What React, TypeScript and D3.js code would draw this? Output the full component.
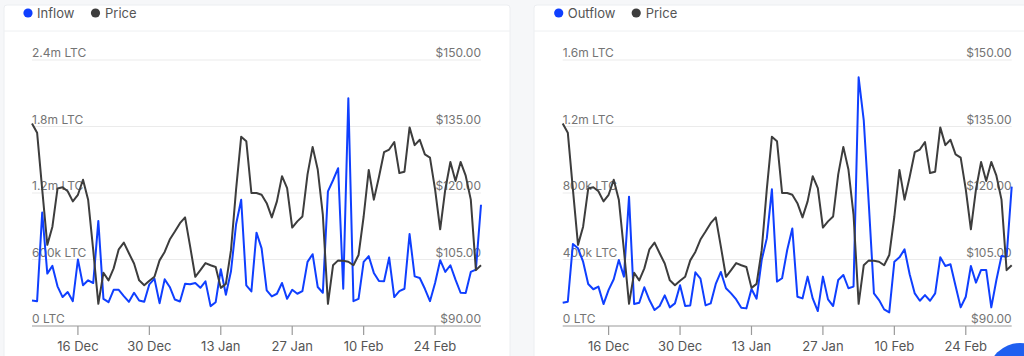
import React, { useEffect, useRef } from "react";
import * as d3 from "d3";

// daily points, 7 Dec 2021 -> 5 Mar 2022
const firstDay = "2021-12-07";
const lastDay = "2022-03-05";

// LTC price, USD
const price = [
  135.7, 133.6, 120.8, 108.3, 112.4, 121.0, 121.3, 120.4, 118.1, 119.6,
  123.0, 118.5, 107.1, 95.0, 102.0, 100.3, 103.0, 107.3, 108.8, 106.4,
  104.1, 100.3, 99.2, 100.2, 101.1, 104.8, 106.7, 109.5, 111.3, 113.2,
  114.5, 107.9, 101.1, 102.6, 104.2, 103.7, 103.3, 98.6, 99.5, 107.1,
  120.8, 132.7, 131.7, 120.0, 120.0, 119.6, 117.7, 114.5, 118.1, 123.8,
  121.1, 112.2, 113.6, 114.7, 124.2, 130.4, 125.3, 115.1, 95.0, 103.7,
  104.8, 104.7, 104.5, 103.7, 106.0, 114.7, 125.2, 118.5, 123.6, 129.2,
  129.8, 131.5, 124.5, 124.8, 134.8, 130.8, 132.0, 128.7, 128.0, 120.8,
  111.8, 120.8, 127.0, 122.7, 127.0, 123.9, 118.5, 102.6, 103.7,
];

// exchange inflow, thousand LTC
const inflow = [
  230, 224, 1024, 473, 542, 358, 261, 306, 224, 600,
  367, 412, 388, 948, 245, 215, 327, 327, 270, 218,
  300, 230, 218, 376, 427, 206, 421, 352, 239, 221,
  382, 376, 388, 345, 403, 179, 215, 512, 282, 494,
  918, 1139, 367, 312, 842, 700, 321, 267, 291, 388,
  245, 327, 291, 315, 579, 648, 352, 300, 1215, 1315,
  1424, 336, 2055, 224, 245, 579, 630, 479, 406, 403,
  618, 261, 315, 336, 830, 448, 433, 336, 224, 388,
  594, 488, 548, 418, 300, 297, 488, 509, 1094,
];

// exchange outflow, thousand LTC
const outflow = [
  140, 146, 493, 467, 387, 253, 221, 237, 132, 217,
  281, 397, 297, 778, 132, 140, 233, 156, 96, 120,
  184, 112, 136, 245, 120, 124, 323, 285, 124, 136,
  253, 325, 227, 196, 160, 110, 106, 223, 164, 397,
  527, 822, 267, 287, 457, 587, 176, 166, 297, 166,
  90, 297, 160, 120, 277, 307, 227, 237, 1496, 1239,
  730, 196, 156, 100, 82, 387, 413, 461, 311, 196,
  152, 186, 152, 196, 413, 361, 371, 241, 112, 176,
  361, 261, 337, 337, 112, 277, 421, 417, 838,
];

const inflowTicks = [0, 600, 1200, 1800, 2400];
const inflowTickLabels = ["0 LTC", "600k LTC", "1.2m LTC", "1.8m LTC", "2.4m LTC"];
const outflowTicks = [0, 400, 800, 1200, 1600];
const outflowTickLabels = ["0 LTC", "400k LTC", "800k LTC", "1.2m LTC", "1.6m LTC"];
const priceTicks = [90, 105, 120, 135, 150];
const dateTicks = ["2021-12-16", "2021-12-30", "2022-01-13", "2022-01-27", "2022-02-10", "2022-02-24"];

const BLUE = "#0f3fff";
const DARK = "#3d3d3d";
const FONT = "Inter, 'Noto Sans', sans-serif";

function drawPanel(svg, opt) {
  const { left, flow, ticks, tickLabels, max, name } = opt;
  const top = 60;
  const bottom = 326;
  const plotW = 449;

  const parse = d3.utcParse("%Y-%m-%d");
  const days = d3.utcDay.range(parse(firstDay), d3.utcDay.offset(parse(lastDay), 1));

  const x = d3.scaleUtc().domain([parse(firstDay), parse(lastDay)]).range([left, left + plotW]);
  const yFlow = d3.scaleLinear().domain([0, max]).range([bottom, top]);
  const yPrice = d3.scaleLinear().domain([90, 150]).range([bottom, top]);

  const g = svg.append("g");

  // grid
  g.selectAll("line.grid")
    .data(ticks.slice(1))
    .enter()
    .append("line")
    .attr("x1", left)
    .attr("x2", left + plotW)
    .attr("y1", (d) => yFlow(d))
    .attr("y2", (d) => yFlow(d))
    .attr("stroke", "#ebebeb")
    .attr("stroke-width", 1);

  // left labels
  g.selectAll("text.yl")
    .data(ticks)
    .enter()
    .append("text")
    .attr("x", left)
    .attr("y", (d) => yFlow(d) - 3)
    .text((d, i) => tickLabels[i])
    .style("fill", "#747474")
    .style("font-size", "12px")
    .style("font-family", FONT);

  // right labels
  g.selectAll("text.yr")
    .data(priceTicks)
    .enter()
    .append("text")
    .attr("x", left + plotW)
    .attr("y", (d) => yPrice(d) - 3)
    .attr("text-anchor", "end")
    .text((d) => d3.format("$.2f")(d))
    .style("fill", "#747474")
    .style("font-size", "12px")
    .style("font-family", FONT);

  // bottom axis
  const axis = g.append("g").attr("transform", `translate(0,${bottom})`);
  axis.append("line")
    .attr("x1", left)
    .attr("x2", left + plotW)
    .attr("stroke", "#9a9a9a")
    .attr("stroke-width", 1.2);
  const tk = axis.selectAll("g.tick")
    .data(dateTicks.map((d) => parse(d)))
    .enter()
    .append("g")
    .attr("transform", (d) => `translate(${x(d)},0)`);
  tk.append("line").attr("y2", 9).attr("stroke", "#9a9a9a").attr("stroke-width", 1.2);
  tk.append("text")
    .attr("y", 25)
    .attr("text-anchor", "middle")
    .text((d) => d3.utcFormat("%-d %b")(d))
    .style("fill", "#555")
    .style("font-size", "13px")
    .style("font-family", FONT);

  const flowLine = d3.line().x((d, i) => x(days[i])).y((d) => yFlow(d));
  const priceLine = d3.line().x((d, i) => x(days[i])).y((d) => yPrice(d));

  g.append("path")
    .attr("d", flowLine(flow))
    .attr("fill", "none")
    .attr("stroke", BLUE)
    .attr("stroke-width", 2)
    .attr("stroke-linejoin", "round");

  g.append("path")
    .attr("d", priceLine(price))
    .attr("fill", "none")
    .attr("stroke", DARK)
    .attr("stroke-width", 2)
    .attr("stroke-linejoin", "round");

  // legend
  const lg = g.append("g").attr("transform", `translate(${left - 4},13)`);
  lg.append("circle").attr("r", 4.6).attr("fill", BLUE);
  lg.append("text")
    .attr("x", 9)
    .attr("y", 4.6)
    .text(name)
    .style("fill", "#555")
    .style("font-size", "13px")
    .style("font-family", FONT);
  const px = name === "Inflow" ? 67.5 : 77.5;
  lg.append("circle").attr("cx", px).attr("r", 4.6).attr("fill", DARK);
  lg.append("text")
    .attr("x", px + 9.5)
    .attr("y", 4.6)
    .text("Price")
    .style("fill", "#555")
    .style("font-size", "13px")
    .style("font-family", FONT);
}

export default function App() {
  const svgRef = useRef(null);

  useEffect(() => {
    if (!svgRef.current) return;
    const svg = d3.select(svgRef.current);
    svg.selectAll("*").remove();

    svg.append("rect").attr("width", 1024).attr("height", 356).attr("fill", "#f6f7f9");

    // cards
    svg.append("rect").attr("x", 4).attr("y", 5).attr("width", 506).attr("height", 400)
      .attr("rx", 3).attr("fill", "#fff").attr("stroke", "#eceef1");
    svg.append("rect").attr("x", 534).attr("y", 5).attr("width", 500).attr("height", 400)
      .attr("rx", 3).attr("fill", "#fff").attr("stroke", "#eceef1");
    svg.append("line").attr("x1", 4).attr("x2", 510).attr("y1", 31).attr("y2", 31).attr("stroke", "#eef0f2");
    svg.append("line").attr("x1", 534).attr("x2", 1024).attr("y1", 31).attr("y2", 31).attr("stroke", "#eef0f2");

    drawPanel(svg, {
      left: 32,
      flow: inflow,
      ticks: inflowTicks,
      tickLabels: inflowTickLabels,
      max: 2400,
      name: "Inflow",
    });
    drawPanel(svg, {
      left: 562.7,
      flow: outflow,
      ticks: outflowTicks,
      tickLabels: outflowTickLabels,
      max: 1600,
      name: "Outflow",
    });

    // floating button peeking in the corner
    svg.append("circle").attr("cx", 1020).attr("cy", 375).attr("r", 32).attr("fill", "#1f5ff0");
  }, []);

  return (
    <div style={{ position: "fixed", left: 0, top: 0, width: 1024, height: 356, background: "#f6f7f9" }}>
      <svg ref={svgRef} width={1024} height={356} style={{ display: "block" }} />
    </div>
  );
}
